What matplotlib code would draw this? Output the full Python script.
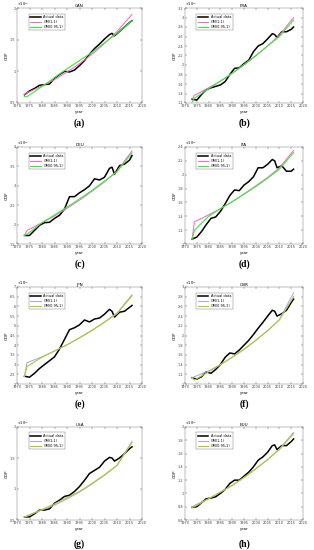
import numpy as np
import matplotlib
matplotlib.use('Agg')
import matplotlib.pyplot as plt

years = [1973, 1975, 1977, 1979, 1981, 1983, 1985, 1987, 1989, 1991, 1993, 1995,
         1997, 1999, 2001, 2003, 2005, 2007, 2008, 2009, 2011, 2013, 2015, 2016]
gm_years = [1973, 1974, 1980, 1985, 1990, 1995, 2000, 2005, 2010, 2016]

# actual GDP
can = [0.63, 0.69, 0.73, 0.78, 0.79, 0.80, 0.89, 0.95, 1.00, 0.99, 1.02, 1.09,
       1.17, 1.27, 1.36, 1.43, 1.51, 1.58, 1.60, 1.56, 1.63, 1.70, 1.77, 1.80]
fra = [1.28, 1.26, 1.38, 1.48, 1.52, 1.55, 1.58, 1.65, 1.80, 1.93, 1.94, 2.03,
       2.10, 2.28, 2.40, 2.45, 2.55, 2.66, 2.64, 2.58, 2.70, 2.70, 2.75, 2.80]
deu = [1.72, 1.72, 1.85, 1.98, 2.05, 2.06, 2.16, 2.24, 2.40, 2.72, 2.72, 2.82,
       2.90, 3.00, 3.18, 3.15, 3.22, 3.45, 3.48, 3.30, 3.52, 3.56, 3.66, 3.78]
ita = [1.07, 1.10, 1.18, 1.28, 1.37, 1.39, 1.47, 1.58, 1.70, 1.78, 1.77, 1.85,
       1.90, 1.97, 2.10, 2.10, 2.15, 2.22, 2.20, 2.10, 2.13, 2.05, 2.05, 2.08]
jpn = [2.40, 2.35, 2.55, 2.80, 3.00, 3.20, 3.40, 3.80, 4.30, 4.80, 4.90, 5.05,
       5.30, 5.20, 5.35, 5.40, 5.60, 5.85, 5.75, 5.45, 5.70, 5.75, 5.95, 6.05]
gbr = [1.13, 1.10, 1.15, 1.25, 1.22, 1.30, 1.40, 1.55, 1.64, 1.62, 1.70, 1.80,
       1.90, 2.02, 2.15, 2.27, 2.40, 2.52, 2.50, 2.40, 2.45, 2.52, 2.68, 2.75]
usa = [0.55, 0.55, 0.60, 0.66, 0.66, 0.68, 0.77, 0.82, 0.88, 0.90, 0.96, 1.04,
       1.14, 1.25, 1.30, 1.35, 1.45, 1.51, 1.50, 1.45, 1.50, 1.57, 1.65, 1.68]
euu = [0.79, 0.80, 0.86, 0.92, 0.93, 0.95, 1.00, 1.06, 1.15, 1.20, 1.20, 1.26,
       1.32, 1.40, 1.50, 1.55, 1.62, 1.72, 1.73, 1.66, 1.72, 1.72, 1.78, 1.82]

# GM(1,1) fitted values
can_gm = [0.63, 0.66, 0.77, 0.87, 0.99, 1.12, 1.27, 1.44, 1.63, 1.90]
fra_gm = [1.28, 1.36, 1.52, 1.66, 1.82, 2.00, 2.19, 2.40, 2.63, 3.00]
deu_gm = [1.72, 1.85, 2.05, 2.22, 2.42, 2.63, 2.86, 3.10, 3.38, 3.90]
ita_gm = [1.07, 1.32, 1.42, 1.51, 1.61, 1.72, 1.84, 1.96, 2.10, 2.35]
jpn_gm = [2.40, 3.10, 3.40, 3.70, 4.02, 4.38, 4.77, 5.20, 5.66, 6.60]
gbr_gm = [1.13, 1.15, 1.27, 1.40, 1.55, 1.71, 1.90, 2.10, 2.33, 2.88]
usa_gm = [0.55, 0.57, 0.66, 0.74, 0.84, 0.95, 1.08, 1.22, 1.38, 1.77]
euu_gm = [0.79, 0.82, 0.92, 1.02, 1.12, 1.24, 1.37, 1.51, 1.67, 1.92]

# GM(0.95,1) fitted values
can_fgm = [0.60, 0.60, 0.76, 0.90, 1.04, 1.17, 1.30, 1.45, 1.60, 1.80]
fra_fgm = [1.22, 1.30, 1.50, 1.66, 1.83, 2.01, 2.20, 2.40, 2.60, 2.95]
deu_fgm = [1.72, 1.75, 2.05, 2.25, 2.45, 2.66, 2.88, 3.12, 3.36, 3.85]
ita_fgm = [1.07, 1.20, 1.40, 1.51, 1.61, 1.72, 1.83, 1.95, 2.08, 2.32]
jpn_fgm = [2.40, 2.90, 3.38, 3.70, 4.02, 4.38, 4.76, 5.18, 5.62, 6.55]
gbr_fgm = [1.13, 1.08, 1.25, 1.40, 1.55, 1.72, 1.90, 2.10, 2.32, 2.80]
usa_fgm = [0.55, 0.56, 0.67, 0.76, 0.86, 0.96, 1.09, 1.23, 1.38, 1.75]
euu_fgm = [0.79, 0.80, 0.92, 1.02, 1.12, 1.24, 1.37, 1.51, 1.66, 1.90]

names = ['CAN', 'FRA', 'DEU', 'ITA', 'JPN', 'GBR', 'USA', 'EUU']
actual = [can, fra, deu, ita, jpn, gbr, usa, euu]
gm = [can_gm, fra_gm, deu_gm, ita_gm, jpn_gm, gbr_gm, usa_gm, euu_gm]
fgm = [can_fgm, fra_fgm, deu_fgm, ita_fgm, jpn_fgm, gbr_fgm, usa_fgm, euu_fgm]
exps = [12, 12, 12, 12, 12, 12, 13, 13]
ylims = [(0.5, 2), (1.2, 3.2), (1.5, 4), (1, 2.4), (2, 7), (1, 3), (0.5, 2), (0.6, 2)]
ysteps = [0.5, 0.2, 0.5, 0.2, 0.5, 0.2, 0.5, 0.2]
letters = ['(a)', '(b)', '(c)', '(d)', '(e)', '(f)', '(g)', '(h)']

W, H = 314, 550
fig = plt.figure(figsize=(W / 100, H / 100), dpi=100)

col_x = [(17, 125), (185, 118)]
row_y = [(8, 103), (147, 244), (287, 384), (427, 520)]

for i in range(8):
    r, c = i // 2, i % 2
    x0, w = col_x[c]
    top, bot = row_y[r]
    ax = fig.add_axes([x0 / W, 1 - bot / H, w / W, (bot - top) / H])
    if r < 2:
        c1, c2 = '#ff5fc8', '#3be83b'
    else:
        c1, c2 = '#a0a0ff', '#a8cc30'
    ax.plot(years, actual[i], color='black', lw=1.1, label='Actual data')
    ax.plot(gm_years, gm[i], color=c1, lw=0.7, label='GM(1,1)')
    ax.plot(gm_years, fgm[i], color=c2, lw=0.8, label='GM(0.95,1)')
    ax.set_xlim(1970, 2020)
    ax.set_ylim(*ylims[i])
    ax.set_xticks(np.arange(1970, 2021, 5))
    lo, hi = ylims[i]
    yt = np.round(np.arange(lo, hi + 1e-9, ysteps[i]), 2)
    ax.set_yticks(yt)
    ax.set_yticklabels(['%g' % v for v in yt])
    ax.tick_params(direction='in', length=1.2, width=0.3, labelsize=2.5, pad=1,
                   top=True, right=True, colors='#444444')
    for s in ax.spines.values():
        s.set_linewidth(0.3)
        s.set_color('#666666')
    ax.set_title(names[i], fontsize=3, pad=1)
    ax.set_xlabel('year', fontsize=2.8, labelpad=1)
    ax.set_ylabel('GDP', fontsize=2.8, labelpad=1)
    ax.text(0, 1.005, r'$\times10^{%d}$' % exps[i], transform=ax.transAxes,
            fontsize=2.5, va='bottom', ha='left')
    leg = ax.legend(loc='upper left', fontsize=2.5, frameon=True, fancybox=False,
                    edgecolor='#444444', handlelength=3, borderpad=0.4,
                    labelspacing=0.3, bbox_to_anchor=(0.08, 0.96))
    leg.get_frame().set_linewidth(0.3)
    fig.text((x0 + w / 2) / W, 1 - (bot + 20 if r < 3 else bot + 24) / H, letters[i],
             ha='center', va='center', fontsize=7, fontweight='bold',
             family='Liberation Serif')

fig.savefig('out.png', dpi=100)
